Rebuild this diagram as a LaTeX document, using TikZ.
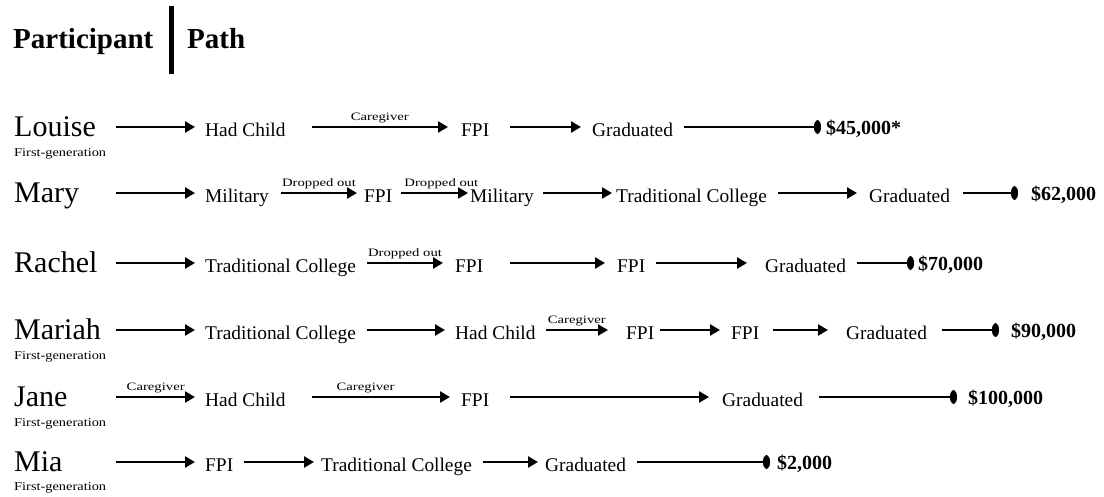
\documentclass[tikz,border=0pt]{standalone}
\usepackage{fontspec}
\setmainfont{Liberation Serif}
\usetikzlibrary{arrows.meta}
\newcommand\elab[1]{\scalebox{1.3}[1]{#1}}
\newcommand\fgen[1]{\scalebox{1.2}[1]{#1}}
\begin{document}
\begin{tikzpicture}[x=1pt,y=-1pt,
 pname/.style={anchor=west,inner sep=0pt,font=\fontsize{30}{32}\selectfont,text height=18pt,text depth=0pt,text width=96pt,align=left},
 plabel/.style={anchor=west,inner sep=0pt,font=\fontsize{19.4}{21}\selectfont,text height=18pt,text depth=0pt},
 pmoney/.style={anchor=west,inner sep=0pt,font=\bfseries\fontsize{20}{22}\selectfont,text height=14pt,text depth=0pt},
 psub/.style={anchor=base west,inner sep=0pt,font=\fontsize{12}{13}\selectfont},
 arr/.style={line width=2.4pt,-{Triangle[length=10pt,width=11pt]}},
 endl/.style={line width=2.4pt,-{Ellipse[length=7pt,width=14pt,round]}},
 elabel/.style={above=3pt,inner sep=0pt,font=\fontsize{11.3}{12}\selectfont,text height=7.5pt,text depth=2.5pt},
 head/.style={anchor=base west,inner sep=0pt,font=\bfseries\fontsize{29}{31}\selectfont}]
\useasboundingbox[fill=white] (0,0) rectangle (1104,496);
% header
\node[head] (hp) at (13,48) {Participant};
\node[head] (hpa) at (187,48) {Path};
\draw[line width=5pt] (171.5,6) -- (171.5,74);
% Louise
\node[pname] (nA) at (14,127) {Louise};
\node[psub] (sA) at (14,156) {\fgen{First-generation}};
\node[plabel] (a1) at (205,127) {Had Child};
\node[plabel] (a2) at (461,127) {FPI};
\node[plabel] (a3) at (592,127) {Graduated};
\node[pmoney] (a4) at (826,127) {\$45,000*};
\draw[arr] ([xshift=6pt]nA.east) -- ([xshift=-10pt]a1.west);
\draw[arr] ([xshift=26pt]a1.east) -- node[elabel]{\elab{Caregiver}} ([xshift=-13pt]a2.west);
\draw[arr] ([xshift=21pt]a2.east) -- ([xshift=-11pt]a3.west);
\draw[endl] ([xshift=11pt]a3.east) -- ([xshift=-5pt]a4.west);
% Mary
\node[pname] (nB) at (14,193) {Mary};
\node[plabel] (b1) at (205,193) {Military};
\node[plabel] (b2) at (364,193) {FPI};
\node[plabel] (b3) at (470,193) {Military};
\node[plabel] (b4) at (616,193) {Traditional College};
\node[plabel] (b5) at (869,193) {Graduated};
\node[pmoney] (b6) at (1031,193) {\$62,000};
\draw[arr] ([xshift=6pt]nB.east) -- ([xshift=-10pt]b1.west);
\draw[arr] ([xshift=12pt]b1.east) -- node[elabel]{\elab{Dropped out}} ([xshift=-7pt]b2.west);
\draw[arr] ([xshift=9pt]b2.east) -- node[elabel,pos=0.6]{\elab{Dropped out}} ([xshift=-2pt]b3.west);
\draw[arr] ([xshift=9pt]b3.east) -- ([xshift=-4pt]b4.west);
\draw[arr] ([xshift=11pt]b4.east) -- ([xshift=-12pt]b5.west);
\draw[endl] ([xshift=13pt]b5.east) -- ([xshift=-13pt]b6.west);
% Rachel
\node[pname] (nC) at (14,263) {Rachel};
\node[plabel] (c1) at (205,263) {Traditional College};
\node[plabel] (c2) at (455,263) {FPI};
\node[plabel] (c3) at (617,263) {FPI};
\node[plabel] (c4) at (765,263) {Graduated};
\node[pmoney] (c5) at (918,263) {\$70,000};
\draw[arr] ([xshift=6pt]nC.east) -- ([xshift=-10pt]c1.west);
\draw[arr] ([xshift=11pt]c1.east) -- node[elabel]{\elab{Dropped out}} ([xshift=-12pt]c2.west);
\draw[arr] ([xshift=27pt]c2.east) -- ([xshift=-12pt]c3.west);
\draw[arr] ([xshift=11pt]c3.east) -- ([xshift=-18pt]c4.west);
\draw[endl] ([xshift=11pt]c4.east) -- ([xshift=-4pt]c5.west);
% Mariah
\node[pname] (nD) at (14,330) {Mariah};
\node[psub] (sD) at (14,359) {\fgen{First-generation}};
\node[plabel] (d1) at (205,330) {Traditional College};
\node[plabel] (d2) at (455,330) {Had Child};
\node[plabel] (d3) at (626,330) {FPI};
\node[plabel] (d4) at (731,330) {FPI};
\node[plabel] (d5) at (846,330) {Graduated};
\node[pmoney] (d6) at (1011,330) {\$90,000};
\draw[arr] ([xshift=6pt]nD.east) -- ([xshift=-10pt]d1.west);
\draw[arr] ([xshift=11pt]d1.east) -- ([xshift=-10pt]d2.west);
\draw[arr] ([xshift=10pt]d2.east) -- node[elabel]{\elab{Caregiver}} ([xshift=-18pt]d3.west);
\draw[arr] ([xshift=6pt]d3.east) -- ([xshift=-11pt]d4.west);
\draw[arr] ([xshift=14pt]d4.east) -- ([xshift=-18pt]d5.west);
\draw[endl] ([xshift=15pt]d5.east) -- ([xshift=-12pt]d6.west);
% Jane
\node[pname] (nE) at (14,397) {Jane};
\node[psub] (sE) at (14,426) {\fgen{First-generation}};
\node[plabel] (e1) at (205,397) {Had Child};
\node[plabel] (e2) at (461,397) {FPI};
\node[plabel] (e3) at (722,397) {Graduated};
\node[pmoney] (e4) at (968,397) {\$100,000};
\draw[arr] ([xshift=6pt]nE.east) -- node[elabel]{\elab{Caregiver}} ([xshift=-10pt]e1.west);
\draw[arr] ([xshift=26pt]e1.east) -- node[elabel,pos=0.39]{\elab{Caregiver}} ([xshift=-11pt]e2.west);
\draw[arr] ([xshift=21pt]e2.east) -- ([xshift=-13pt]e3.west);
\draw[endl] ([xshift=16pt]e3.east) -- ([xshift=-11pt]e4.west);
% Mia
\node[pname] (nF) at (14,462) {Mia};
\node[psub] (sF) at (14,490) {\fgen{First-generation}};
\node[plabel] (f1) at (205,462) {FPI};
\node[plabel] (f2) at (321,462) {Traditional College};
\node[plabel] (f3) at (545,462) {Graduated};
\node[pmoney] (f4) at (777,462) {\$2,000};
\draw[arr] ([xshift=6pt]nF.east) -- ([xshift=-10pt]f1.west);
\draw[arr] ([xshift=11pt]f1.east) -- ([xshift=-7pt]f2.west);
\draw[arr] ([xshift=11pt]f2.east) -- ([xshift=-7pt]f3.west);
\draw[endl] ([xshift=11pt]f3.east) -- ([xshift=-7pt]f4.west);
\end{tikzpicture}
\end{document}
